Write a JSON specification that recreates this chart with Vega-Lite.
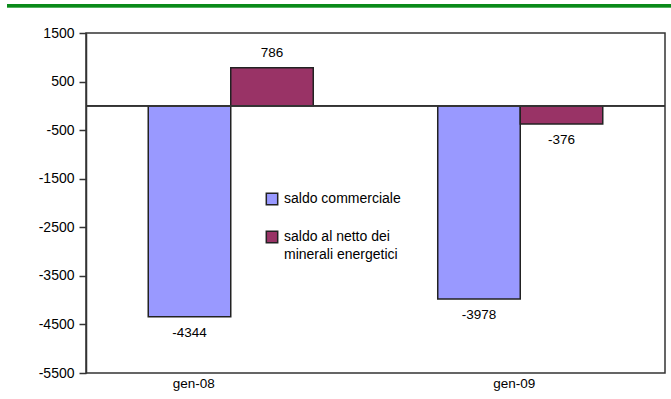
{
  "$schema": "https://vega.github.io/schema/vega-lite/v6.json",
  "autosize": {"type": "none"},
  "width": 579,
  "height": 340,
  "padding": {"left": 86, "top": 33, "right": 6, "bottom": 26},
  "background": "white",
  "config": {
    "font": "Liberation Sans",
    "view": {"stroke": "#333333", "strokeWidth": 1.5},
    "locale": {
      "number": {"decimal": ".", "thousands": "", "grouping": [3], "currency": ["", ""], "minus": "-"}
    },
    "style": {"guide-label": {"lineHeight": 18}}
  },
  "data": {
    "values": [
      {"mese": "gen-08", "serie": "saldo commerciale", "valore": -4344},
      {"mese": "gen-08", "serie": "saldo al netto dei minerali energetici", "valore": 786},
      {"mese": "gen-09", "serie": "saldo commerciale", "valore": -3978},
      {"mese": "gen-09", "serie": "saldo al netto dei minerali energetici", "valore": -376}
    ]
  },
  "encoding": {
    "x": {
      "field": "mese",
      "type": "nominal",
      "title": null,
      "scale": {"paddingInner": 0.43, "paddingOuter": 0.215},
      "axis": {
        "labelAngle": 0,
        "ticks": false,
        "domain": false,
        "labelFontSize": 13.5,
        "labelColor": "#000000",
        "labelPadding": 3,
        "labelOffset": {"condition": {"test": "datum.value == 'gen-08'", "value": -37}, "value": -6}
      }
    },
    "y": {
      "field": "valore",
      "type": "quantitative",
      "title": null,
      "scale": {"domain": [-5500, 1500], "nice": false, "zero": false},
      "axis": {
        "values": [1500, 500, -500, -1500, -2500, -3500, -4500, -5500],
        "format": "d",
        "grid": false,
        "domainColor": "#333333",
        "domainWidth": 1.5,
        "tickColor": "#333333",
        "tickWidth": 1.5,
        "tickSize": 7,
        "labelFontSize": 14,
        "labelColor": "#000000",
        "labelPadding": 5
      }
    }
  },
  "layer": [
    {
      "mark": {"type": "rule", "color": "#0a8a1a", "strokeWidth": 3, "x": -79, "x2": 585},
      "encoding": {"y": {"datum": 2060}, "x": null}
    },
    {
      "mark": {"type": "bar", "stroke": "#222222", "strokeWidth": 1.5},
      "encoding": {
        "xOffset": {"field": "serie", "type": "nominal", "sort": ["saldo commerciale", "saldo al netto dei minerali energetici"]},
        "color": {
          "field": "serie",
          "type": "nominal",
          "sort": ["saldo commerciale", "saldo al netto dei minerali energetici"],
          "scale": {"domain": ["saldo commerciale", "saldo al netto dei minerali energetici"], "range": ["#9999FF", "#993366"]},
          "legend": {
            "title": null,
            "orient": "none",
            "legendX": 179,
            "legendY": 159,
            "symbolType": "square",
            "symbolSize": 130,
            "symbolStrokeColor": "#222222",
            "symbolStrokeWidth": 1.5,
            "labelFontSize": 14,
            "labelColor": "#000000",
            "labelOffset": 5,
            "rowPadding": 20,
            "labelExpr": "datum.label == 'saldo al netto dei minerali energetici' ? ['saldo al netto dei', 'minerali energetici'] : datum.label"
          }
        }
      }
    },
    {
      "mark": {"type": "rule", "color": "#333333", "strokeWidth": 1.5},
      "encoding": {"y": {"datum": 0}, "x": null}
    },
    {
      "transform": [{"filter": "datum.valore >= 0"}],
      "mark": {"type": "text", "fontSize": 13.5, "color": "#000000", "baseline": "bottom", "dy": -8},
      "encoding": {
        "xOffset": {"field": "serie", "type": "nominal", "sort": ["saldo commerciale", "saldo al netto dei minerali energetici"]},
        "text": {"field": "valore", "type": "quantitative", "format": "d"}
      }
    },
    {
      "transform": [{"filter": "datum.valore < 0"}],
      "mark": {"type": "text", "fontSize": 13.5, "color": "#000000", "baseline": "top", "dy": 9},
      "encoding": {
        "xOffset": {"field": "serie", "type": "nominal", "sort": ["saldo commerciale", "saldo al netto dei minerali energetici"]},
        "text": {"field": "valore", "type": "quantitative", "format": "d"}
      }
    }
  ]
}
